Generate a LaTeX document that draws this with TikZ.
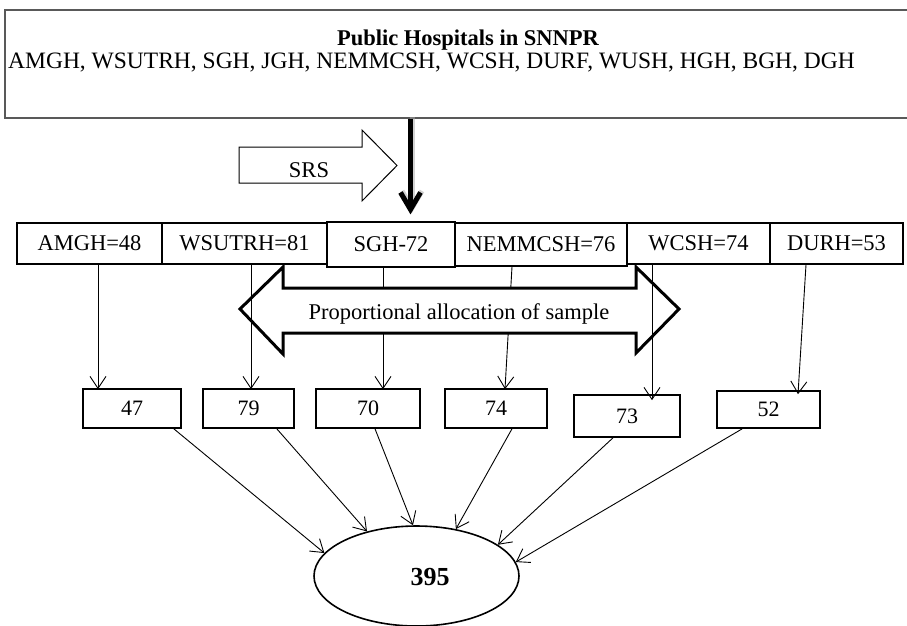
\documentclass[tikz,border=0pt]{standalone}
\usepackage{fontspec}
\setmainfont{Liberation Serif}
\usetikzlibrary{arrows.meta,calc,shapes.geometric}
\begin{document}
\begin{tikzpicture}[x=1pt,y=-1pt,
  hbox/.style={draw,line width=1.2pt,inner sep=0pt,minimum height=41pt,font=\fontsize{22.5}{24}\selectfont},
  nbox/.style={draw,line width=1.6pt,inner sep=0pt,minimum height=39pt,font=\fontsize{22}{24}\selectfont},
  arr/.style={line width=0.9pt,-{Straight Barb[length=12pt,width=16pt,line width=0.9pt]}},
  txt/.style={inner sep=0pt,font=\fontsize{22.5}{24}\selectfont},
  blockarrow/.style={draw,fill=white,line join=miter},
]
\useasboundingbox (0,0) rectangle (907,625);

% top box
\node[draw=black!65,line width=1.2pt,minimum width=906pt,minimum height=108pt,inner sep=0pt] (top) at (458,64) {};
\node[txt,font=\bfseries\fontsize{22.5}{24}\selectfont,anchor=base] (title) at (468,45) {Public Hospitals in SNNPR};
\node[txt,font=\fontsize{23.5}{24}\selectfont,anchor=base west] (list) at (8,68) {AMGH, WSUTRH, SGH, JGH, NEMMCSH, WCSH, DURF, WUSH, HGH, BGH, DGH};

% SRS arrow
\draw[blockarrow,line width=1pt] (239,147) -- (362,147) -- (362,130) -- (397,165.5) -- (362,201) -- (362,183) -- (239,183) -- cycle;
\node[txt] (srs) at (309,170.5) {SRS};

% hospital boxes
\node[hbox,minimum width=145pt] (amgh) at (89.5,243.5) {AMGH=48};
\node[hbox,minimum width=165pt] (wsutrh) at (244.5,243.5) {WSUTRH=81};
\node[hbox,minimum width=143pt] (wcsh) at (698.5,243.5) {WCSH=74};
\node[hbox,minimum width=133pt] (durh) at (836.5,243.5) {DURH=53};
\node[hbox,minimum width=172pt,minimum height=43pt] (nem) at (541,244.5) {NEMMCSH=76};
\node[hbox,minimum width=128pt,minimum height=45pt] (sgh) at (391,244.5) {SGH-72};

% thick SRS arrow
\draw[line width=5pt,black!35,opacity=0.5,shorten >=7pt,-{Straight Barb[length=17pt,width=20pt,line width=5pt]}]
  ([xshift=-46pt,yshift=1.5pt]top.south) -- ([xshift=21pt,yshift=1.5pt]sgh.north);
\draw[line width=5pt,shorten >=7pt,-{Straight Barb[length=17pt,width=20pt,line width=5pt]}]
  ([xshift=-47.5pt]top.south) -- ([xshift=19.5pt]sgh.north);

% sample boxes
\node[nbox,minimum width=98pt] (n47) at (132,408.5) {47};
\node[nbox,minimum width=91pt] (n79) at (248.5,408.5) {79};
\node[nbox,minimum width=104pt] (n70) at (368,408.5) {70};
\node[nbox,minimum width=102pt] (n74) at (496,408.5) {74};
\node[nbox,minimum width=106pt,minimum height=42pt] (n73) at (627,416) {73};
\node[nbox,minimum width=103pt,minimum height=37pt] (n52) at (768.5,409.5) {52};

% arrows passing under the allocation arrow
\draw[arr] ([xshift=-8pt]sgh.south) -- ([xshift=15pt,yshift=-1pt]n70.north);
\draw[arr] ([xshift=-29pt]nem.south) -- ([xshift=9pt,yshift=-1pt]n74.north);

% proportional allocation double arrow
\draw[blockarrow,line width=3pt] (240,309) -- (283,267) -- (283,288) -- (636,288) -- (636,267) -- (679,309)
  -- (636,353) -- (636,333) -- (283,333) -- (283,354) -- cycle;
\node[txt,anchor=base] (prop) at (459,319) {Proportional allocation of sample};

% arrows over the allocation arrow
\draw[arr] ([xshift=8.5pt]amgh.south) -- ([xshift=-34pt,yshift=-1pt]n47.north);
\draw[arr] ([xshift=6.5pt]wsutrh.south) -- ([xshift=2.5pt,yshift=-1pt]n79.north);
\draw[arr] ([xshift=-46.5pt]wcsh.south) -- ([xshift=25pt,yshift=-6pt]n73.north);
\draw[arr] ([xshift=-30.5pt]durh.south) -- ([xshift=29.5pt,yshift=-4pt]n52.north);

% total
\node[ellipse,draw,line width=1.6pt,minimum width=205pt,minimum height=100pt,inner sep=0pt] (ell) at (416.5,576) {};
\node[inner sep=0pt,font=\bfseries\fontsize{26}{28}\selectfont] (total) at (430,577) {395};

\draw[arr] ([xshift=-8pt]n47.south east) -- (ell.166);
\draw[arr] ([xshift=-18pt]n79.south east) -- (ell.138);
\draw[arr] ([xshift=7pt]n70.south) -- (ell.94);
\draw[arr] ([xshift=16pt]n74.south) -- (ell.50);
\draw[arr] ([xshift=-14pt]n73.south) -- (ell.21);
\draw[arr] ([xshift=26pt]n52.south west) -- (ell.8.5);
\end{tikzpicture}
\end{document}
